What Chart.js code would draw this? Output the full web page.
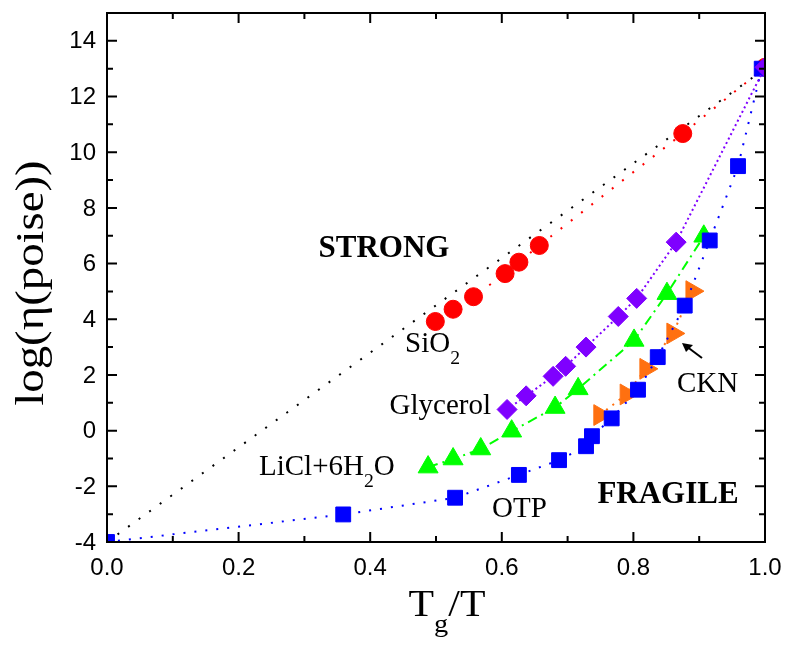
<!DOCTYPE html>
<html lang="en">
<head>
  <meta charset="UTF-8">
  <title>log viscosity vs Tg/T</title>
  <script src="https://cdn.jsdelivr.net/npm/chart.js"></script>
  <style>
    html, body {
      margin: 0;
      padding: 0;
      background: #fff;
    }

    #wrap {
      width: 786px;
      height: 645px;
    }
  </style>
</head>
<body>

  <div id="wrap"><canvas id="chart" width="786" height="645"></canvas></div>

  <script>
    // Arrhenius (strong limit) reference line
    const strongX = [0, 1];
    const strongY = [-4, 13];

    const sio2X = [0.499, 0.526, 0.557, 0.605, 0.626, 0.657, 0.875, 1.0];
    const sio2Y = [3.92, 4.36, 4.81, 5.64, 6.05, 6.65, 10.67, 13.05];

    const glyX = [0.608, 0.637, 0.678, 0.697, 0.728, 0.777, 0.805, 0.865, 1.0];
    const glyY = [0.76, 1.25, 1.95, 2.31, 3.0, 4.1, 4.75, 6.77, 13.05];

    const liclX = [0.488, 0.526, 0.568, 0.615, 0.681, 0.716, 0.801, 0.851, 0.907];
    const liclY = [-1.31, -1.02, -0.66, -0.02, 0.83, 1.5, 3.24, 4.92, 6.98];

    const otpX = [0, 0.359, 0.529, 0.626, 0.687, 0.728, 0.737, 0.767, 0.807, 0.837, 0.878, 0.916, 0.959, 0.995];
    const otpY = [-4, -3.01, -2.41, -1.59, -1.06, -0.56, -0.2, 0.44, 1.47, 2.64, 4.49, 6.83, 9.5, 13.0];

    const cknX = [0.749, 0.789, 0.819, 0.86, 0.889];
    const cknY = [0.56, 1.3, 2.22, 3.49, 5.01];

    const xTicks = [0, 0.2, 0.4, 0.6, 0.8, 1.0];
    const yTicks = [-4, -2, 0, 2, 4, 6, 8, 10, 12, 14];

    function pts(xs, ys) {
      return xs.map((x, i) => ({ x: x, y: ys[i] }));
    }

    const serif = '"Liberation Serif", "Times New Roman", serif';
    const sans = '"Liberation Sans", Arial, sans-serif';

    // text with an optional subscript part: [[text, isSub], ...]
    function drawParts(ctx, parts, x, y, size, align, bold, sx) {
      sx = sx || 1;
      const w = (p) => {
        ctx.font = (bold ? 'bold ' : '') + (p[1] ? size * 0.68 : size) + 'px ' + serif;
        return ctx.measureText(p[0]).width * sx;
      };
      let total = parts.reduce((s, p) => s + w(p), 0);
      let cx = align === 'right' ? x - total : align === 'center' ? x - total / 2 : x;
      parts.forEach(p => {
        const pw = w(p);
        ctx.save();
        ctx.translate(cx, p[1] ? y + size * 0.42 : y);
        ctx.scale(sx, 1);
        ctx.fillText(p[0], 0, 0);
        ctx.restore();
        cx += pw;
      });
    }

    const decor = {
      id: 'decor',
      afterDraw(chart) {
        const { ctx, chartArea: a, scales: { x, y } } = chart;
        ctx.save();
        ctx.strokeStyle = '#000';
        ctx.lineWidth = 2;
        ctx.strokeRect(a.left, a.top, a.right - a.left, a.bottom - a.top);

        ctx.beginPath();
        for (let i = 0; i <= 10; i++) {
          const px = x.getPixelForValue(i / 10);
          const len = i % 2 === 0 ? 10 : 6;
          ctx.moveTo(px, a.bottom); ctx.lineTo(px, a.bottom - len);
          ctx.moveTo(px, a.top); ctx.lineTo(px, a.top + len);
        }
        for (let v = -4; v <= 15; v++) {
          const py = y.getPixelForValue(v);
          const len = v % 2 === 0 ? 10 : 6;
          ctx.moveTo(a.left, py); ctx.lineTo(a.left + len, py);
          ctx.moveTo(a.right, py); ctx.lineTo(a.right - len, py);
        }
        ctx.stroke();

        // y tick labels
        ctx.fillStyle = '#000';
        ctx.font = '24px ' + sans;
        ctx.textAlign = 'right';
        ctx.textBaseline = 'middle';
        yTicks.forEach(v => ctx.fillText(String(v), a.left - 11, y.getPixelForValue(v) + 1));
        ctx.textAlign = 'left';

        // labels inside the plot
        ctx.textBaseline = 'alphabetic';
        drawParts(ctx, [['STRONG', false]], 384, 257, 31, 'center', true);
        drawParts(ctx, [['FRAGILE', false]], 668, 503, 31, 'center', true);
        drawParts(ctx, [['SiO', false], ['2', true]], 405, 352, 29, 'left');
        drawParts(ctx, [['Glycerol', false]], 491, 414, 29, 'right');
        drawParts(ctx, [['LiCl+6H', false], ['2', true], ['O', false]], 259, 475, 29, 'left');
        drawParts(ctx, [['OTP', false]], 492, 517, 29, 'left');
        drawParts(ctx, [['CKN', false]], 677, 392, 29, 'left');

        // arrow to the CKN points
        ctx.lineWidth = 2;
        ctx.beginPath();
        ctx.moveTo(702, 358); ctx.lineTo(686, 346);
        ctx.stroke();
        ctx.beginPath();
        ctx.moveTo(682, 343); ctx.lineTo(693, 345); ctx.lineTo(686, 352);
        ctx.closePath();
        ctx.fill();

        // axis titles
        drawParts(ctx, [['T', false], ['g', true], ['/T', false]], 447, 616, 38, 'center', false, 1.1);
        ctx.translate(43, 283);
        ctx.rotate(-Math.PI / 2);
        drawParts(ctx, [['log(\u03b7(poise))', false]], 0, 0, 40, 'center', false, 1.17);
        ctx.restore();
      }
    };

    function series(data, color, style, radius, dash, extra) {
      return Object.assign({
        data: data,
        showLine: true,
        tension: 0,
        borderColor: color,
        borderWidth: 2,
        borderDash: dash,
        pointStyle: style,
        pointRadius: radius,
        pointHoverRadius: radius,
        pointBackgroundColor: color,
        pointBorderColor: color,
        pointBorderWidth: 1
      }, extra || {});
    }

    new Chart(document.getElementById('chart'), {
      type: 'scatter',
      data: {
        datasets: [
          series(pts(glyX, glyY), '#7f00ff', 'rectRot', 10, [2, 3], { order: 1 }),
          series(pts(otpX, otpY), '#0000ff', 'rect', 10.5, [2, 9], { order: 2 }),
          series(pts(cknX, cknY), '#ff7010', 'triangle', 12, [2, 6], { order: 3, pointRotation: 90 }),
          series(pts(liclX, liclY), '#00ff00', 'triangle', 11.5, [10, 5, 2, 5], { order: 4 }),
          series(pts(sio2X, sio2Y), '#ff0000', 'circle', 9, [2, 11], { order: 5 }),
          series(pts(strongX, strongY), '#000000', 'circle', 0, [2, 11], { order: 6 })
        ]
      },
      options: {
        responsive: false,
        animation: false,
        layout: { padding: { top: 7, right: 21, left: 0, bottom: 0 } },
        plugins: {
          legend: { display: false },
          tooltip: { enabled: false }
        },
        scales: {
          x: {
            type: 'linear',
            min: 0,
            max: 1,
            afterFit: (s) => { s.height = 103; s.paddingLeft = 0; s.paddingRight = 0; },
            afterBuildTicks: (s) => { s.ticks = xTicks.map(v => ({ value: v })); },
            grid: { display: false },
            border: { display: false },
            ticks: {
              padding: 4,
              color: '#000',
              maxRotation: 0,
              font: { family: sans, size: 24 },
              callback: (v) => Number(v).toFixed(1)
            }
          },
          y: {
            type: 'linear',
            min: -4,
            max: 15,
            afterFit: (s) => { s.width = 107; },
            grid: { display: false },
            border: { display: false },
            ticks: { display: false }
          }
        }
      },
      plugins: [decor]
    });
  </script>

</body>
</html>
